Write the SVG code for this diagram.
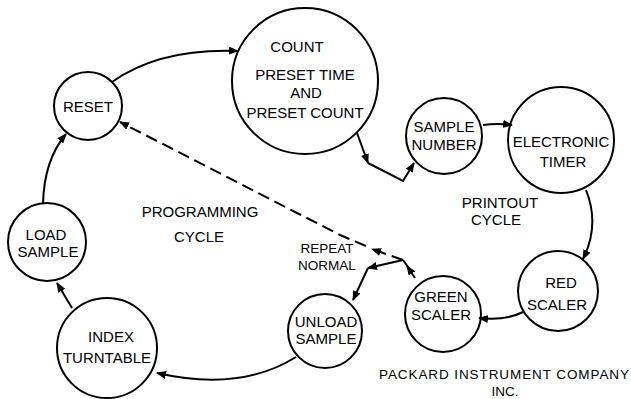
<svg xmlns="http://www.w3.org/2000/svg" width="631" height="399" viewBox="0 0 631 399">
<defs>
<style>
.n{fill:none;stroke:#000;stroke-width:2}
.t{font-family:"Liberation Sans",Arial,sans-serif;font-size:15px;fill:#000;text-anchor:middle}
.s{font-size:13.5px}
.c{fill:none;stroke:#000;stroke-width:2}
.d{fill:none;stroke:#000;stroke-width:2;stroke-dasharray:12 6}
</style>
<marker id="ah" viewBox="0 0 10 8" refX="9" refY="4" markerWidth="10" markerHeight="8" markerUnits="userSpaceOnUse" orient="auto">
<path d="M0,0 L10,4 L0,8 Z" fill="#000"/>
</marker>
</defs>
<rect width="631" height="399" fill="#fff"/>
<g id="connectors">
<path class="c" d="M112,82 Q160,48 238,51" marker-end="url(#ah)"/>
<path class="c" d="M357,133 L368,163" marker-end="url(#ah)"/>
<path class="c" d="M368,163 L403,181 L414,163" marker-end="url(#ah)"/>
<path class="c" d="M483,125 Q497,123 512,125" marker-end="url(#ah)"/>
<path class="c" d="M586,190 Q600,225 583,259" marker-end="url(#ah)"/>
<path class="c" d="M523,312 Q505,321 479,318" marker-end="url(#ah)"/>
<path class="c" d="M415,278 L407,266" marker-end="url(#ah)"/>
<path class="c" d="M408,267 L403,260"/>
<path class="c" d="M403,260 L368,268" marker-end="url(#ah)"/>
<path class="c" d="M368,268 L353,300" marker-end="url(#ah)"/>
<path class="d" d="M403,260 L372,249" marker-end="url(#ah)"/>
<path class="d" d="M366,246 L340,235 L120,122" marker-end="url(#ah)"/>
<path class="c" d="M296,357 Q240,392 157,373" marker-end="url(#ah)"/>
<path class="c" d="M72,308 L57,283" marker-end="url(#ah)"/>
<path class="c" d="M43,204 Q44,160 66,134" marker-end="url(#ah)"/>
</g>
<g id="reset"><circle class="n" cx="88" cy="106" r="34"/><text class="t" x="88" y="112">RESET</text></g>
<g id="count"><circle class="n" cx="305" cy="81" r="73"/>
<text class="t" x="297" y="52">COUNT</text>
<text class="t" x="305" y="80">PRESET TIME</text>
<text class="t" x="306" y="98">AND</text>
<text class="t" x="305" y="118">PRESET COUNT</text></g>
<g id="sample-number"><circle class="n" cx="444" cy="136" r="38"/>
<text class="t" x="444" y="132">SAMPLE</text><text class="t" x="444" y="150">NUMBER</text></g>
<g id="electronic-timer"><circle class="n" cx="561" cy="140" r="53"/>
<text class="t" x="561" y="147">ELECTRONIC</text><text class="t" x="563" y="167">TIMER</text></g>
<g id="red-scaler"><circle class="n" cx="558" cy="291" r="40"/>
<text class="t" x="561" y="288">RED</text><text class="t" x="557" y="310">SCALER</text></g>
<g id="green-scaler"><circle class="n" cx="443" cy="314" r="38"/>
<text class="t" x="441" y="302">GREEN</text><text class="t" x="441" y="320">SCALER</text></g>
<g id="unload-sample"><circle class="n" cx="325" cy="331" r="37"/>
<text class="t" x="326" y="327">UNLOAD</text><text class="t" x="326" y="344">SAMPLE</text></g>
<g id="index-turntable"><circle class="n" cx="107" cy="348" r="50"/>
<text class="t" x="111" y="342">INDEX</text><text class="t" x="107" y="363">TURNTABLE</text></g>
<g id="load-sample"><circle class="n" cx="47" cy="242" r="39"/>
<text class="t" x="46" y="240">LOAD</text><text class="t" x="48" y="257">SAMPLE</text></g>
<g id="labels">
<text class="t" x="200" y="217">PROGRAMMING</text>
<text class="t" x="199" y="242">CYCLE</text>
<text class="t" x="500" y="208">PRINTOUT</text>
<text class="t" x="496" y="225">CYCLE</text>
<text class="t s" x="327" y="253">REPEAT</text>
<text class="t s" x="327" y="270">NORMAL</text>
<text class="t s" x="504" y="379" textLength="250">PACKARD INSTRUMENT COMPANY</text>
<text class="t s" x="505" y="396">INC.</text>
</g>
</svg>
